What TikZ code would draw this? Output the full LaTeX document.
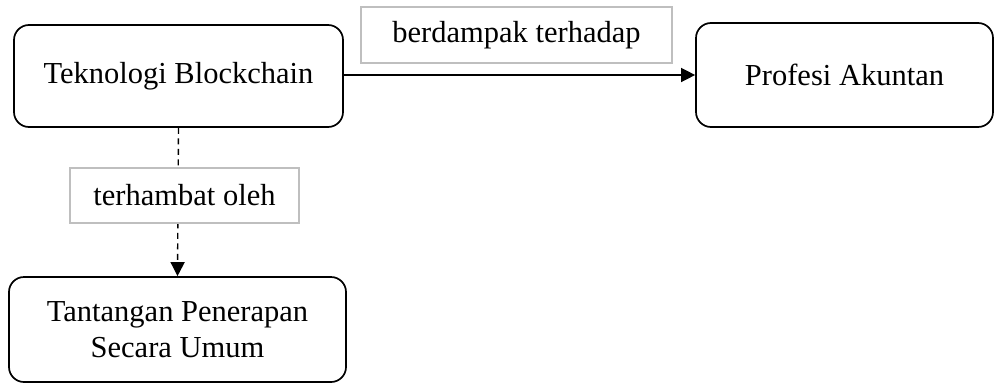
\documentclass[tikz,border=0pt]{standalone}
\usepackage{fontspec}
\setmainfont{Liberation Serif}
\usetikzlibrary{arrows.meta,backgrounds}
\begin{document}
\begin{tikzpicture}[x=1pt,y=-1pt,
  box/.style={draw=black,line width=1.7pt,rounded corners=15pt,fill=white,
    inner sep=0pt,align=center,font=\fontsize{30.5}{36}\selectfont},
  lbl/.style={draw=black!25,line width=1.2pt,fill=white,inner sep=0pt,
    font=\fontsize{30.5}{36}\selectfont},
  conn/.style={line width=1.4pt,-{Triangle[length=14pt,width=14pt]}}]
\useasboundingbox (0,0) rectangle (995,383);
\node[box,minimum width=329pt,minimum height=102pt] (b1) at (178.5,76) {Teknologi Blockchain};
\node[box,minimum width=297pt,minimum height=104pt] (b2) at (844.5,75) {Profesi Akuntan};
\node[box,minimum width=337pt,minimum height=105pt] (b3) at (177.5,329.5) {Tantangan Penerapan\\[0pt]Secara Umum};
\node[lbl,minimum width=311pt,minimum height=56pt] (l1) at (516.5,35) {berdampak terhadap};
\node[lbl,minimum width=229pt,minimum height=55pt] (l2) at (184.5,195.5) {terhambat oleh};
\draw[conn] (b1.east |- 0,75) -- (b2.west |- 0,75);
\begin{scope}[on background layer]
\draw[conn,dash pattern=on 6pt off 4.5pt] (b1.south) -- (b3.north);
\end{scope}
\end{tikzpicture}
\end{document}
